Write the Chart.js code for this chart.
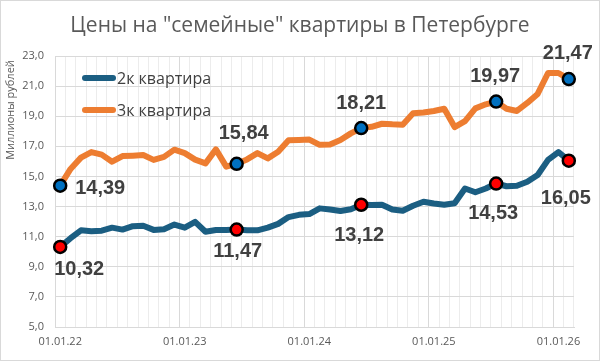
<!DOCTYPE html>
<html>
<head>
<meta charset="utf-8">
<script src="https://cdn.jsdelivr.net/npm/chart.js@4.4.1/dist/chart.umd.min.js"></script>
<style>
  html, body { margin: 0; padding: 0; background: #fff; }
</style>
</head>
<body>
<canvas id="chart" width="600" height="361"></canvas>
<script>
// Monthly categories, Jan 2022 - Feb 2026
const months = [
    "01.01.22", "01.02.22", "01.03.22", "01.04.22", "01.05.22", "01.06.22",
    "01.07.22", "01.08.22", "01.09.22", "01.10.22", "01.11.22", "01.12.22",
    "01.01.23", "01.02.23", "01.03.23", "01.04.23", "01.05.23", "01.06.23",
    "01.07.23", "01.08.23", "01.09.23", "01.10.23", "01.11.23", "01.12.23",
    "01.01.24", "01.02.24", "01.03.24", "01.04.24", "01.05.24", "01.06.24",
    "01.07.24", "01.08.24", "01.09.24", "01.10.24", "01.11.24", "01.12.24",
    "01.01.25", "01.02.25", "01.03.25", "01.04.25", "01.05.25", "01.06.25",
    "01.07.25", "01.08.25", "01.09.25", "01.10.25", "01.11.25", "01.12.25",
    "01.01.26", "01.02.26",
];

// Millions of rubles
const flat2k = [
    10.32, 10.9, 11.42, 11.36, 11.4, 11.6, 11.47, 11.7, 11.72, 11.45, 11.5, 11.8,
    11.6, 11.98, 11.33, 11.44, 11.45, 11.47, 11.42, 11.42, 11.6, 11.85, 12.3, 12.45,
    12.5, 12.88, 12.8, 12.7, 12.82, 13.12, 13.1, 13.12, 12.8, 12.72, 13.05, 13.32,
    13.2, 13.12, 13.22, 14.2, 13.95, 14.2, 14.53, 14.35, 14.38, 14.65, 15.1, 16.1,
    16.62, 16.05,
];
const flat3k = [
    14.39, 15.5, 16.25, 16.62, 16.45, 15.98, 16.35, 16.38, 16.42, 16.1, 16.3, 16.78,
    16.55, 16.12, 15.87, 16.8, 15.65, 15.84, 16.13, 16.55, 16.2, 16.64, 17.4, 17.42,
    17.45, 17.1, 17.12, 17.42, 17.86, 18.21, 18.3, 18.5, 18.46, 18.44, 19.2, 19.25,
    19.35, 19.5, 18.28, 18.68, 19.52, 19.79, 19.97, 19.5, 19.35, 19.88, 20.48, 21.87,
    21.87, 21.47,
];

// points that get a marker and a value label
const markedPoints = [0, 17, 29, 42, 49];

const seriesNames = ["2к квартира", "3к квартира"];
const chartTitle = 'Цены на "семейные" квартиры в Петербурге';
const yTitle = "Миллионы рублей";

const yMin = 5;
const yMax = 23;
const yStep = 2;

// label placement relative to marker centre, per dataset
const labelOffsets = [
    { 0: [19, 23], 17: [1, 22], 29: [-2, 31], 42: [-3, 30], 49: [-3, 38] },
    { 0: [40, 3], 17: [7, -30], 29: [0, -25], 42: [-1, -25], 49: [-1, -26] },
];

const fmt = (v) => v.toFixed(2).replace(".", ",");

// Title, y title, legend, value labels and the outer frame
const decorPlugin = {
    id: "decor",
    beforeDraw(chart) {
        const ctx = chart.ctx;
        ctx.save();
        ctx.fillStyle = "#fff";
        ctx.fillRect(0, 0, chart.width, chart.height);
        ctx.restore();
    },
    afterDatasetsDraw(chart) {
        const ctx = chart.ctx;
        ctx.save();

        // value labels
        ctx.font = 'bold 20px "Liberation Sans"';
        ctx.fillStyle = "#404040";
        ctx.textAlign = "center";
        ctx.textBaseline = "middle";
        chart.data.datasets.forEach((ds, di) => {
            const meta = chart.getDatasetMeta(di);
            markedPoints.forEach((i) => {
                const pt = meta.data[i];
                const off = labelOffsets[di][i] || [0, -25];
                ctx.fillText(fmt(ds.data[i]), pt.x + off[0], pt.y + off[1]);
            });
        });

        // legend inside the plot
        ctx.font = '16px "Open Sans"';
        ctx.textAlign = "left";
        chart.data.datasets.forEach((ds, di) => {
            const y = 78 + di * 32;
            ctx.strokeStyle = ds.borderColor;
            ctx.lineWidth = 6;
            ctx.lineCap = "round";
            ctx.beginPath();
            ctx.moveTo(85, y);
            ctx.lineTo(113, y);
            ctx.stroke();
            ctx.fillStyle = "#404040";
            ctx.fillText(ds.label, 117, y + 1);
        });

        // chart title
        ctx.font = '21px "Open Sans"';
        ctx.fillStyle = "#595959";
        ctx.textAlign = "center";
        ctx.fillText(chartTitle, 300, 26);

        // y axis title, near the top
        ctx.save();
        ctx.translate(11, 110);
        ctx.rotate(-Math.PI / 2);
        ctx.font = '11px "Open Sans"';
        ctx.fillStyle = "#595959";
        ctx.fillText(yTitle, 0, 0);
        ctx.restore();

        // frame
        ctx.strokeStyle = "#d9d9d9";
        ctx.lineWidth = 1;
        ctx.strokeRect(0.5, 0.5, chart.width - 1, chart.height - 1);
        ctx.restore();
    },
};

function makeSeries(label, data, color, markerColor) {
    return {
        label: label,
        data: data,
        borderColor: color,
        backgroundColor: color,
        borderWidth: 6,
        borderJoinStyle: "round",
        borderCapStyle: "round",
        tension: 0,
        pointRadius: (c) => (markedPoints.includes(c.dataIndex) ? 6 : 0),
        pointHoverRadius: 0,
        pointBackgroundColor: markerColor,
        pointBorderColor: "#000",
        pointBorderWidth: 2.5,
    };
}

new Chart(document.getElementById("chart"), {
    type: "line",
    data: {
        labels: months,
        datasets: [
            makeSeries(seriesNames[0], flat2k, "#1b5e82", "#ff0000"),
            makeSeries(seriesNames[1], flat3k, "#ed7d31", "#0070c0"),
        ],
    },
    options: {
        responsive: false,
        animation: false,
        layout: { padding: { top: 56, right: 26, left: 0, bottom: 0 } },
        plugins: {
            legend: { display: false },
            tooltip: { enabled: false },
            title: { display: false },
        },
        scales: {
            x: {
                type: "category",
                offset: true,
                afterFit: (s) => { s.height = 34; },
                grid: {
                    offset: true,
                    drawTicks: false,
                    color: (c) => (c.index % 12 === 0 ? "#d9d9d9" : "#ececec"),
                },
                border: { color: "#d9d9d9" },
                ticks: {
                    autoSkip: false,
                    maxRotation: 0,
                    padding: 8,
                    color: "#595959",
                    font: { family: "Open Sans", size: 11 },
                    callback: (v, i) => (i % 12 === 0 ? months[i] : ""),
                },
            },
            y: {
                min: yMin,
                max: yMax,
                afterFit: (s) => { s.width = 55; },
                grid: { drawTicks: false, color: "#d9d9d9" },
                border: { color: "#d9d9d9" },
                ticks: {
                    stepSize: yStep,
                    padding: 11,
                    color: "#595959",
                    font: { family: "Open Sans", size: 11 },
                    callback: (v) => v.toFixed(1).replace(".", ","),
                },
            },
        },
    },
    plugins: [decorPlugin],
});
</script>
</body>
</html>
